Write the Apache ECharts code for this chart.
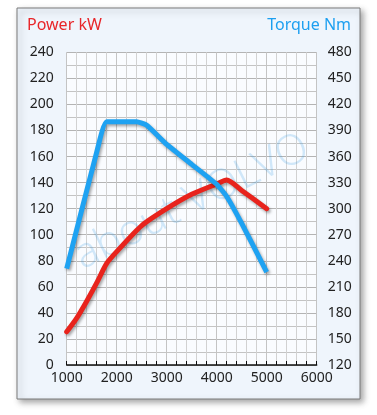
<!DOCTYPE html>
<html>
<head>
<meta charset="utf-8">
<script src="https://cdn.jsdelivr.net/npm/echarts@6/dist/echarts.min.js"></script>
<style>
html,body{margin:0;padding:0;background:#fff;}
#chart{width:377px;height:415px;}
</style>
</head>
<body>
<div id="chart"></div>
<script>
var powerRpm   = [1000, 1200, 1400, 1600, 1800, 2000, 2500, 3000, 3500, 4000, 4200, 4500, 5000];
var powerKw    = [25.5, 36, 49, 63, 78, 87, 107, 120, 131, 139, 142, 134, 120];
var torqueRpm  = [1000, 1600, 1800, 2400, 2600, 3000, 3500, 4000, 4200, 4500, 5000];
var torqueNm   = [231, 365, 400, 400, 396, 374, 351, 328, 314, 283, 227];
var powerTitle = 'Power kW';
var torqueTitle = 'Torque Nm';
var watermark = 'about VOLVO';

function pairs(xs, ys){ return xs.map(function(x,i){ return [x, ys[i]]; }); }

var chart = echarts.init(document.getElementById('chart'), null, {renderer:'canvas'});
var fontFam = '"Noto Sans", "DejaVu Sans", sans-serif';
var lineShadow = {shadowColor:'rgba(0,0,0,0.35)', shadowBlur:3, shadowOffsetX:1.5, shadowOffsetY:2};

chart.setOption({
  animation:false,
  backgroundColor:'#ffffff',
  graphic:[
    {type:'rect', z:-10, silent:true,
     shape:{x:17, y:8, width:343, height:391},
     style:{fill:'#eff5fc', stroke:'#7a7a7a', lineWidth:1,
            shadowColor:'rgba(0,0,0,0.35)', shadowBlur:6, shadowOffsetX:3, shadowOffsetY:3}},
    {type:'text', z:-5, silent:true, left:27, top:17,
     style:{text:powerTitle, fill:'#e8262a', font:'16px ' + fontFam}},
    {type:'text', z:-5, silent:true, right:26, top:17,
     style:{text:torqueTitle, fill:'#1c9ff0', font:'16px ' + fontFam}},
    {type:'text', z:1, silent:true, x:192, y:202, rotation:0.46,
     style:{text:watermark, fill:'rgba(40,150,225,0.2)', font:'300 42px ' + fontFam,
            align:'center', verticalAlign:'middle'}}
  ],
  grid:{left:66.7, right:60.3, top:52.3, bottom:50, show:true, backgroundColor:'#fafcff', borderWidth:0},
  xAxis:{
    type:'value', min:1000, max:6000, interval:1000,
    axisLine:{show:true, lineStyle:{color:'#111', width:1.5}},
    axisTick:{show:true, inside:true, length:4, lineStyle:{color:'#111', width:1}},
    minorTick:{show:true, splitNumber:5, length:4, lineStyle:{color:'#111', width:1}},
    axisLabel:{color:'#222', fontSize:14, fontFamily:fontFam, margin:6,
               formatter:function(v){ return String(v); }},
    splitLine:{show:true, lineStyle:{color:'#c4c4c4', width:1}},
    minorSplitLine:{show:true, lineStyle:{color:'#d2d2d2', width:1}}
  },
  yAxis:[
    {type:'value', min:0, max:240, interval:20, position:'left',
     axisLine:{show:false}, axisTick:{show:false},
     axisLabel:{color:'#222', fontSize:14, fontFamily:fontFam, margin:13},
     splitLine:{show:true, lineStyle:{color:'#b4b4b4', width:1}},
     minorTick:{show:false, splitNumber:2},
     minorSplitLine:{show:true, lineStyle:{color:'#c4c4c4', width:1}}},
    {type:'value', min:120, max:480, interval:30, position:'right',
     axisLine:{show:false}, axisTick:{show:false},
     axisLabel:{color:'#222', fontSize:14, fontFamily:fontFam, margin:11},
     splitLine:{show:false}}
  ],
  series:[
    {type:'line', name:powerTitle, yAxisIndex:0, data:pairs(powerRpm, powerKw),
     smooth:0.25, showSymbol:false, z:3,
     lineStyle:Object.assign({color:'#e8231c', width:5, cap:'round', join:'round'}, lineShadow)},
    {type:'line', name:torqueTitle, yAxisIndex:1, data:pairs(torqueRpm, torqueNm),
     smooth:0.15, showSymbol:false, z:4,
     lineStyle:Object.assign({color:'#1ea2f2', width:5, cap:'butt', join:'round'}, lineShadow)}
  ]
});
</script>
</body>
</html>
